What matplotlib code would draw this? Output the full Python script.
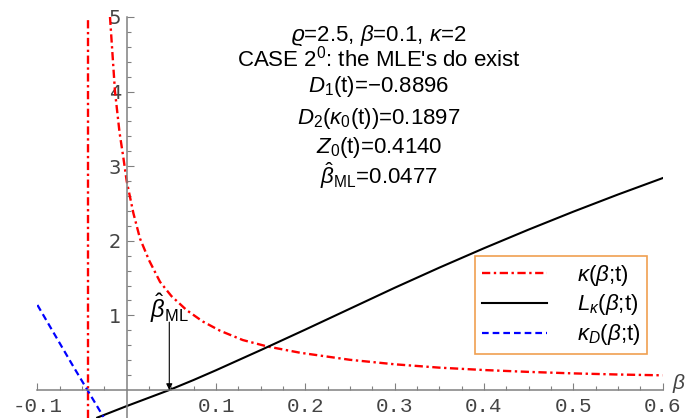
import matplotlib
matplotlib.use("Agg")
import matplotlib.pyplot as plt
from matplotlib.ticker import FixedLocator

# values
kappa_beta = [-0.0215, -0.0187, -0.0131, -0.0080, -0.0038, 0.0, 0.0075, 0.0149, 0.025,
              0.0373, 0.05, 0.0672, 0.085, 0.1045, 0.13, 0.157, 0.194, 0.25, 0.30,
              0.35, 0.40, 0.45, 0.50, 0.55, 0.60]
kappa_vals = [5.7, 5.0, 4.0, 3.45, 3.12, 2.80, 2.37, 2.03, 1.74,
              1.45, 1.26, 1.07, 0.92, 0.795, 0.67, 0.585, 0.50, 0.405, 0.345,
              0.30, 0.268, 0.243, 0.223, 0.208, 0.197]
kappa_pole = -0.0437

L_beta = [-0.033, 0.0, 0.0477, 0.075, 0.10, 0.125, 0.151, 0.20, 0.25, 0.30, 0.35,
          0.40, 0.45, 0.50, 0.55, 0.60]
L_vals = [-0.37, -0.215, 0.0, 0.135, 0.265, 0.40, 0.54, 0.81, 1.09, 1.37, 1.64,
          1.90, 2.15, 2.39, 2.62, 2.84]

kD_beta = [-0.10, -0.08, -0.06, -0.044, -0.026]
kD_vals = [1.14, 0.73, 0.32, 0.0, -0.36]

beta_ml = 0.0477

x_ticks = [-0.1, 0.1, 0.2, 0.3, 0.4, 0.5, 0.6]
x_labels = ["-0.1", "0.1", "0.2", "0.3", "0.4", "0.5", "0.6"]
y_ticks = [1, 2, 3, 4, 5]

info_lines = [
    r"$\varrho$=2.5, $\beta$=0.1, $\kappa$=2",
    r"CASE 2$^0$: the MLE's do exist",
    r"$D_1$(t)=−0.8896",
    r"$D_2$($\kappa_0$(t))=0.1897",
    r"$Z_0$(t)=0.4140",
    r"$\hat{\beta}_{\rm ML}$=0.0477",
]
info_baselines = [41, 67, 92, 124, 153, 184]  # pixels from top

plt.rcParams["font.family"] = ["Liberation Sans", "DejaVu Sans"]
plt.rcParams["mathtext.fontset"] = "custom"
plt.rcParams["mathtext.rm"] = "Liberation Sans"
plt.rcParams["mathtext.it"] = "Liberation Sans:italic"
plt.rcParams["mathtext.bf"] = "Liberation Sans:bold"

W, H = 697, 418
fig = plt.figure(figsize=(W / 100, H / 100), dpi=100)
ax = fig.add_axes([37.4 / W, 0, 625.1 / W, 401 / H])
ax.set_xlim(-0.1, 0.6)
ax.set_ylim(-0.375, 5)

dashdot = (0, (3.5, 1.5, 1, 1.5))
ax.plot(kappa_beta, kappa_vals, color="red", lw=1.7, ls=dashdot, label=r"$\kappa$($\beta$;t)")
ax.axvline(kappa_pole, color="red", lw=1.7, ls=dashdot)
ax.plot(L_beta, L_vals, color="black", lw=1.5, label=r"$L_\kappa$($\beta$;t)")
ax.plot(kD_beta, kD_vals, color="blue", lw=1.6, ls=(0, (3, 1.8)), label=r"$\kappa_D$($\beta$;t)")

# axes through the origin, Mathematica style
for s in ["top", "right"]:
    ax.spines[s].set_visible(False)
ax.spines["left"].set_position(("data", 0))
ax.spines["bottom"].set_position(("data", 0))
for s in ["left", "bottom"]:
    ax.spines[s].set_color("#808080")
    ax.spines[s].set_linewidth(1.1)

ax.set_xticks(x_ticks)
ax.set_xticklabels(x_labels, family="Liberation Mono", fontsize=15, color="#444444")
ax.xaxis.set_minor_locator(FixedLocator([-0.075, -0.05, -0.025] +
                                        [i * 0.025 for i in range(1, 24) if i % 4]))
ax.set_yticks(y_ticks)
ax.set_yticklabels([str(v) for v in y_ticks], family="DejaVu Sans", fontsize=14, color="#444444")
ax.yaxis.set_minor_locator(FixedLocator([i * 0.2 for i in range(1, 25) if i % 5]))
ax.tick_params(which="both", direction="in", color="#808080", width=0.8)
ax.tick_params(which="major", length=5)
ax.tick_params(which="minor", length=3)
ax.tick_params(axis="x", pad=5)
ax.tick_params(axis="y", pad=4)

ax.annotate(r"$\beta$", xy=(0.6, 0), xytext=(7, 5), textcoords="offset points",
            ha="left", va="center", fontsize=15, color="#444444", annotation_clip=False)

# marker for the MLE
ax.annotate("", xy=(beta_ml, 0), xytext=(beta_ml, 0.91),
            arrowprops=dict(arrowstyle="-|>", color="black", lw=0.8, mutation_scale=9,
                            shrinkA=0, shrinkB=0))
ax.text(beta_ml, 0.97, r"$\hat{\beta}_{\rm ML}$", ha="center", va="baseline", fontsize=17)

for txt, yb in zip(info_lines, info_baselines):
    fig.text(379 / W, 1 - yb / H, txt, ha="center", va="baseline", fontsize=16)

leg = ax.legend(loc="lower left", bbox_to_anchor=(475 / W, 1 - 354 / H),
                bbox_transform=fig.transFigure, borderaxespad=0, fontsize=16,
                fancybox=False, framealpha=1, handlelength=2.95, handletextpad=1.35,
                labelspacing=0.22, borderpad=0.3)
leg.get_frame().set_edgecolor("#f0a050")
leg.get_frame().set_linewidth(1.2)

fig.savefig("out.png", dpi=100)
